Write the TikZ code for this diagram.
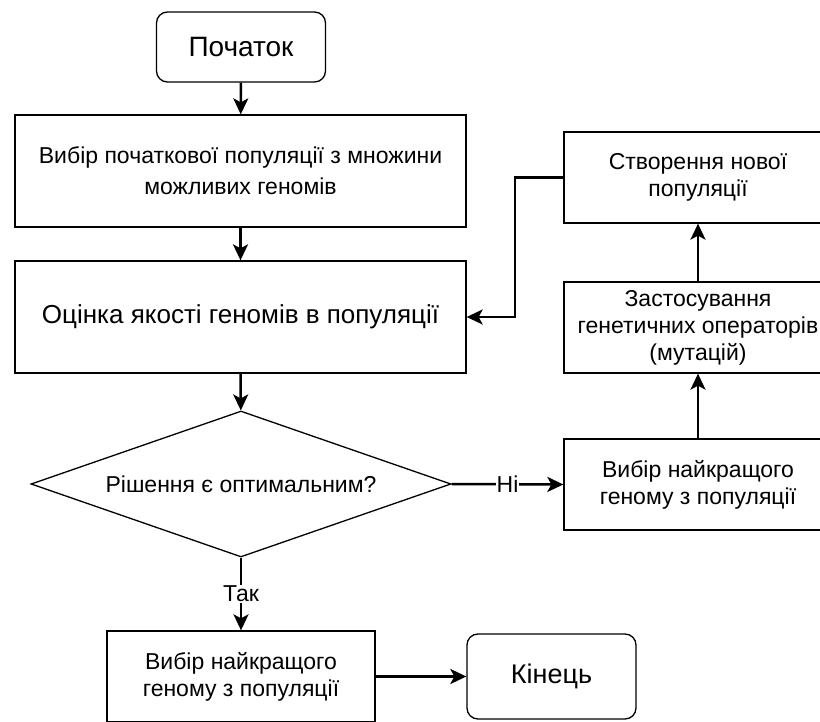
\documentclass[tikz,border=0pt]{standalone}
\usepackage{fontspec}
\setmainfont{Liberation Sans}
\usetikzlibrary{shapes.geometric,arrows.meta}

\tikzset{
  box/.style={draw, line width=1.3pt, rectangle, inner sep=0pt, align=center,
    minimum width=268pt, minimum height=91pt, font=\fontsize{23}{27}\selectfont},
  bigbox/.style={box, minimum width=451pt, minimum height=112pt},
  term/.style={draw, line width=1.3pt, rectangle, rounded corners=11pt, inner sep=0pt,
    minimum width=169pt},
  decision/.style={draw, line width=1.3pt, diamond, inner sep=0pt, shape aspect=2.88,
    minimum width=420pt, minimum height=146pt, font=\fontsize{23}{27}\selectfont},
  conn/.style={line width=2.5pt, -{Stealth[length=16pt,width=15pt,inset=4pt]}},
  lbl/.style={fill=white, inner sep=1pt, font=\fontsize{23}{27}\selectfont}
}

\begin{document}
\begin{tikzpicture}[x=1pt,y=-1pt]
  \useasboundingbox (0,0) rectangle (820,722);
  \clip (0,0) rectangle (820,722);

  % main column
  \node[term, minimum height=70pt, font=\fontsize{28}{32}\selectfont] (start) at (241,47) {Початок};
  \node[bigbox, font=\fontsize{23}{31}\selectfont] (init) at (240.5,171)
    {Вибір початкової популяції з множини\\можливих геномів};
  \node[bigbox, font=\fontsize{26}{30}\selectfont] (eval) at (240.5,317)
    {Оцінка якості геномів в популяції};
  \node[decision] (dec) at (241,484) {Рішення є оптимальним?};
  \node[box] (best1) at (241,676.5) {Вибір найкращого\\геному з популяції};
  \node[term, minimum height=85pt, font=\fontsize{27}{30}\selectfont] (end) at (551.5,676.5) {Кінець};

  % loop column
  \node[box] (best2) at (698,484.5) {Вибір найкращого\\геному з популяції};
  \node[box] (mut) at (698,327.5) {Застосування\\генетичних операторів\\(мутацій)};
  \node[box] (newpop) at (698,177.5) {Створення нової\\популяції};
  \coordinate (loopx) at (515,177.5);

  % connectors
  \draw[conn] (start) -- (init);
  \draw[conn] (init) -- (eval);
  \draw[conn] (eval) -- (dec);
  \draw[conn] (dec.east) -- node[lbl] {Ні} (best2.west);
  \draw[conn] (best2) -- (mut);
  \draw[conn] (mut) -- (newpop);
  \draw[conn] (newpop.west) -- (loopx) |- (eval.east);
  \draw[conn] (dec.south) -- node[lbl] {Так} (best1.north);
  \draw[conn] (best1) -- (end);
\end{tikzpicture}
\end{document}
